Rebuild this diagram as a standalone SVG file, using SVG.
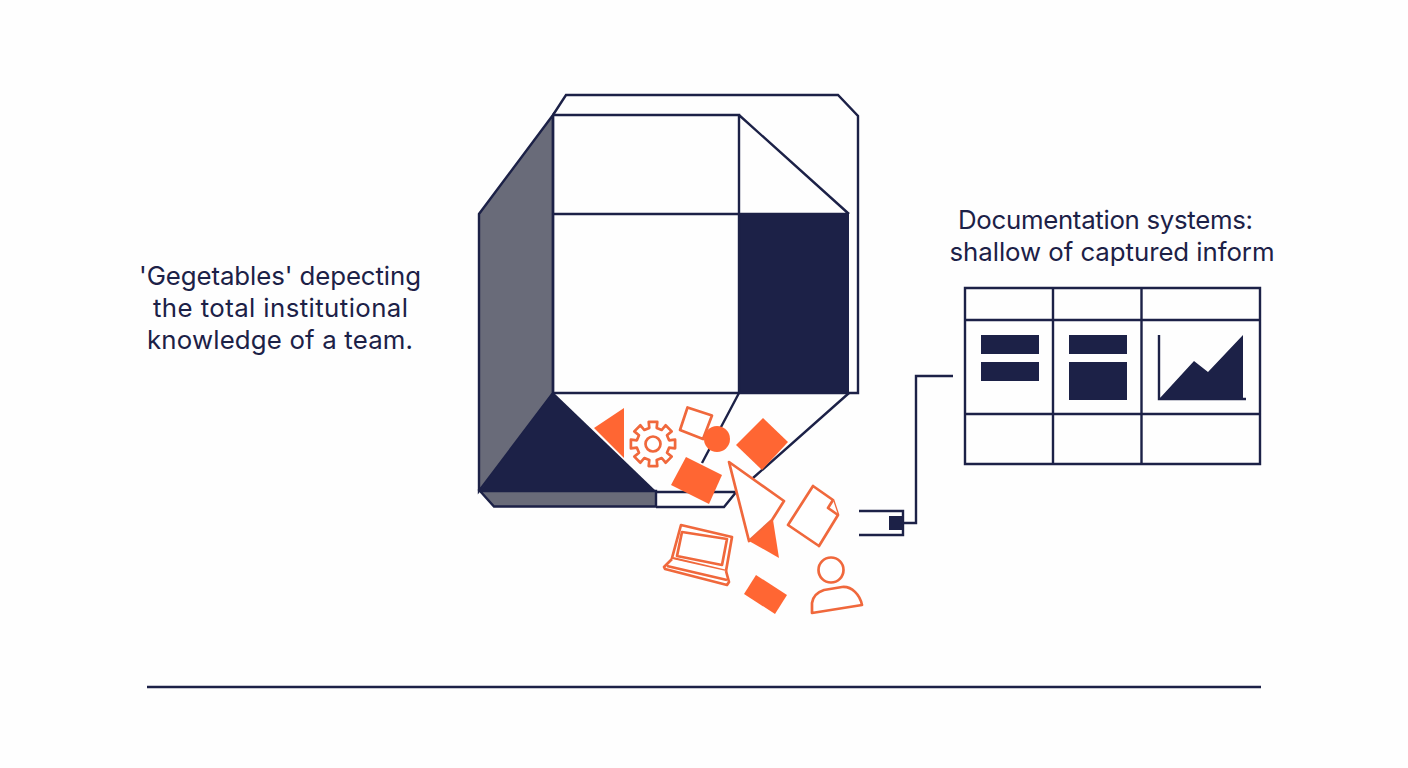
<svg xmlns="http://www.w3.org/2000/svg" width="1408" height="768" viewBox="0 0 1408 768">
<style>
.l{fill:none;stroke:#1c2147;stroke-width:2.4;stroke-linejoin:miter}
.t{font-family:"Inter","Liberation Sans",sans-serif;font-size:25.800px;fill:#1c2147;text-anchor:middle}
.o{fill:#ff6633}
.w{fill:#fff;stroke:#f0683c;stroke-width:2.700;stroke-linejoin:round}
.n{fill:#1c2147}
</style>
<rect width="1408" height="768" fill="#fefefe"/>
<g id="container">
<path class="l" d="M553 115L566 95H838L858 116V393H849"/>
<path d="M553 115L479 214V491L553 393Z" fill="#696b79" stroke="#1c2147" stroke-width="2.4"/>
<path d="M480 491L494 506.500H656V491Z" fill="#696b79" stroke="#1c2147" stroke-width="2.400"/>
<rect x="739" y="214" width="110" height="179" class="n"/>
<path class="l" d="M553 115H739V393M553 214H849M739 115L849 214M553 115V393M553 393H849"/>
<path class="l" d="M849 393L753 478M739 393L702 463M656 492H735M656 507H724L737 491"/>
<path class="n" d="M553 392L479 492H657Z"/>
</g>
<g id="fragments">
<path class="o" d="M624 408L594 428L624 458Z"/>
<polygon class="w" transform="translate(653 444)" points="16.100,-3.700 22.100,-4.300 22.100,4.300 16.100,3.700 14,8.700 18.700,12.600 12.600,18.700 8.700,14 3.700,16.100 4.300,22.100 -4.300,22.100 -3.700,16.100 -8.700,14 -12.600,18.700 -18.700,12.600 -14,8.700 -16.100,3.700 -22.100,4.300 -22.100,-4.300 -16.100,-3.700 -14,-8.700 -18.700,-12.600 -12.600,-18.700 -8.700,-14 -3.700,-16.100 -4.300,-22.100 4.300,-22.100 3.700,-16.100 8.700,-14 12.600,-18.700 18.700,-12.600 14,-8.700"/>
<circle class="w" cx="653" cy="444" r="7.500"/>
<path class="w" d="M687.500 407.500L712 415.500L703 439L680 430Z"/>
<circle class="o" cx="717" cy="439" r="13"/>
<path class="o" d="M763 418L788 442L762 470L736 445Z"/>
<path class="o" d="M686 457L722 475L709 504L671 485Z"/>
<path class="w" d="M729 462L784 501L772 520L749 541Z"/>
<path class="o" d="M773 520L779 558L749 541Z"/>
<path class="w" d="M813 486L833 500L838 515L819 546L788 525Z"/>
<path class="w" fill="none" d="M833 500L828 508L838 515"/>
<path class="w" d="M681 525L732 537L726 571L672 558Z"/>
<path class="w" d="M682 532L727 539L722 565L677 556Z"/>
<path class="w" d="M672 559L664 567L665 569L727 585L729 582L726 571"/>
<path class="w" fill="none" d="M667 566L727 580"/>
<path class="o" d="M756 575L787 595L775 614L744 594Z"/>
<circle class="w" cx="831" cy="570" r="12.500"/>
<path class="w" d="M812 613V603C813 595 818 592 824 590L842 587C852 586 860 595 862 605Z"/>
</g>
<g id="connectors">
<path class="l" d="M859 511H903V535H859"/>
<path class="l" d="M903 523H916V376H953"/>
<path class="l" d="M147 687H1261"/>
</g>
<g id="plug"><rect x="889" y="516" width="14" height="14" class="n"/></g>
<g id="table">
<path class="l" d="M965 288H1260V464H965ZM1053 288V464M1141.500 288V464M965 320H1260M965 414H1260"/>
<rect x="981" y="335" width="58" height="19" class="n"/>
<rect x="981" y="362" width="58" height="19" class="n"/>
<rect x="1069" y="335" width="58" height="19" class="n"/>
<rect x="1069" y="362" width="58" height="38" class="n"/>
<path class="l" d="M1159 335V399H1246"/>
<path class="n" d="M1160 398L1194 361L1208 372L1243 335V399H1160Z"/>
</g>
<g id="left-label">
<text class="t" x="280" y="285" textLength="282">'Gegetables' depecting</text>
<text class="t" x="280.500" y="317" textLength="255">the total institutional</text>
<text class="t" x="280" y="349" textLength="266">knowledge of a team.</text>
</g>
<g id="right-label">
<text class="t" x="1105.500" y="229" textLength="295">Documentation systems:</text>
<text class="t" x="1112" y="261" textLength="325">shallow of captured inform</text>
</g>
</svg>
